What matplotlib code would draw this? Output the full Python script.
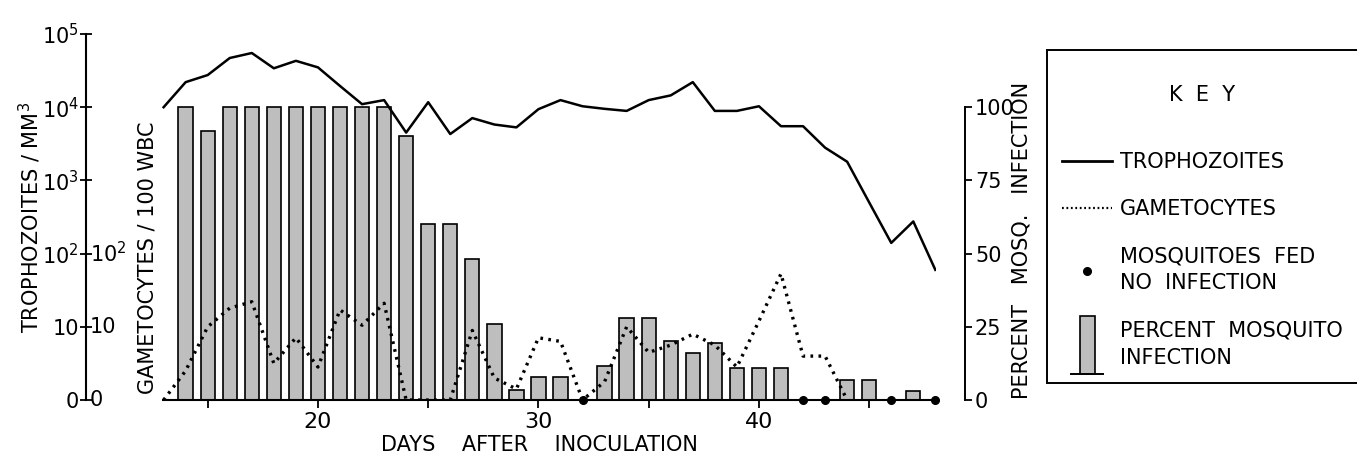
import matplotlib.pyplot as plt
import matplotlib.transforms as mtransforms
from matplotlib.legend_handler import HandlerBase
from matplotlib.lines import Line2D
from matplotlib.patches import Rectangle

plt.rcParams["font.family"] = ["DejaVu Sans"]
plt.rcParams["mathtext.fontset"] = "dejavusans"

# trophozoites / mm3, one reading a day
tropho_days = list(range(13, 49))
tropho = [10000, 22000, 27500, 47000, 55000, 34000, 43000, 35000, 19500,
          11000, 12500, 4500, 11700, 4300, 7100, 5800, 5300, 9400, 12500,
          10300, 9500, 8900, 12500, 14500, 22000, 8900, 8900, 10300, 5500,
          5500, 2800, 1800, 500, 140, 275, 60]

# gametocytes / 100 WBC
gameto_days = list(range(13, 45))
gameto = [0, 4, 10, 18, 22, 5, 8.5, 4.5, 17, 10.5, 21, 0, 0, 0, 9.5, 3,
          1.5, 8.5, 8, 0, 2.5, 10, 6.5, 7.5, 9, 7.5, 4.5, 12, 53, 6, 6, 0]

# percent mosquito infection
bar_days = [14, 15, 16, 17, 18, 19, 20, 21, 22, 23, 24, 25, 26, 27, 28, 29,
            30, 31, 33, 34, 35, 36, 37, 38, 39, 40, 41, 44, 45, 47]
bar_pct = [100, 92, 100, 100, 100, 100, 100, 100, 100, 100, 90, 60, 60, 48,
           26, 3.5, 8, 8, 11.5, 28, 28, 20, 16, 19.5, 11, 11, 11, 7, 7, 3]

# mosquitoes fed, no infection
none_days = [32, 42, 43, 46, 48]
none_pct = [0, 0, 0, 0, 0]

left_ticks = [0, 10, 100, 1000, 10000, 100000]
left_labels = ["0", "10", "10$^2$", "10$^3$", "10$^4$", "10$^5$"]
inner_ticks = [0, 10, 100]
inner_labels = ["0", "10", "10$^2$"]
pct_ticks = [0, 25, 50, 75, 100]
day_ticks = [15, 20, 25, 30, 35, 40, 45]
day_labels = ["", "20", "", "30", "", "40", ""]

BAR_GRAY = "#bebebe"
FS = 15


class BarKeyHandler(HandlerBase):
    def create_artists(self, legend, orig_handle, xdescent, ydescent,
                       width, height, fontsize, trans):
        cx = width / 2 - xdescent
        cy = height / 2 - ydescent
        bw = 0.72 * fontsize
        bh = 2.8 * fontsize
        y0 = cy - bh / 2
        rect = Rectangle((cx - bw / 2, y0), bw, bh, facecolor=BAR_GRAY,
                         edgecolor="black", linewidth=1.2, transform=trans)
        base = Line2D([cx - 0.75 * fontsize, cx + 0.75 * fontsize], [y0, y0],
                      color="black", linewidth=1.4, transform=trans)
        return [rect, base]


fig = plt.figure(figsize=(13.57, 4.54), dpi=100)
ax = fig.add_axes([86 / 1357, 54 / 454, 850 / 1357, 366 / 454])
axp = ax.twinx()
ax.set_zorder(axp.get_zorder() + 1)
ax.patch.set_visible(False)

# percent axis (bars and dots)
axp.bar(bar_days, bar_pct, width=0.65, color=BAR_GRAY, edgecolor="black",
        linewidth=1.2)
axp.plot(none_days, none_pct, "o", color="black", ms=5.5, clip_on=False,
         zorder=5)
axp.set_ylim(0, 125)
axp.set_yticks(pct_ticks)
axp.tick_params(axis="y", direction="out", length=5, width=1.3, pad=2,
                labelsize=FS)
for s in ["top", "left", "bottom"]:
    axp.spines[s].set_visible(False)
axp.spines["right"].set_position(("outward", 21))
axp.spines["right"].set_bounds(0, 100)
axp.spines["right"].set_linewidth(1.4)
axp.set_ylabel("PERCENT   MOSQ.   INFECTION", fontsize=FS)
axp.yaxis.set_label_coords(1.089, 0.437)

# counts axis (lines)
ax.plot(tropho_days, tropho, color="black", lw=1.8)
ax.plot(gameto_days, gameto, color="black", lw=2.4, ls=(0, (0.8, 1.6)))
ax.set_yscale("symlog", linthresh=10, linscale=0.9)
ax.set_ylim(0, 100000)
ax.set_xlim(9.48, 48.03)
ax.minorticks_off()
ax.set_yticks(left_ticks)
ax.set_yticklabels(left_labels)
ax.set_xticks(day_ticks)
ax.set_xticklabels(day_labels)
ax.tick_params(axis="y", direction="inout", length=8, width=1.3, pad=1,
               labelsize=FS)
ax.tick_params(axis="x", direction="out", length=6, width=1.3, pad=3,
               labelsize=16)
ax.spines["top"].set_visible(False)
ax.spines["right"].set_visible(False)
ax.spines["bottom"].set_bounds(12.97, 48.03)
for s in ["left", "bottom"]:
    ax.spines[s].set_linewidth(1.5)
ax.set_xlabel("DAYS    AFTER    INOCULATION", fontsize=FS)
ax.xaxis.set_label_coords(0.534, -0.095)
ax.set_ylabel("TROPHOZOITES / MM$^3$", fontsize=FS)
ax.yaxis.set_label_coords(-0.05, 0.5)

# gametocyte scale, written on the inside of the same axis line
inner = mtransforms.offset_copy(
    mtransforms.blended_transform_factory(ax.transAxes, ax.transData),
    fig=fig, x=4, y=0, units="dots")
for v, s in zip(inner_ticks, inner_labels):
    ax.text(0, v, s, transform=inner, ha="left", va="center", fontsize=FS)
ax.text(0.072, 0.388, "GAMETOCYTES / 100 WBC", transform=ax.transAxes,
        rotation=90, ha="center", va="center", fontsize=FS)

# key
handles = [
    Line2D([], [], color="black", lw=2),
    Line2D([], [], color="black", lw=1.6, ls=(0, (0.8, 1.2))),
    Line2D([], [], color="black", marker="o", ms=5.5, ls="none"),
    Rectangle((0, 0), 1, 1),
]
labels = ["TROPHOZOITES", "GAMETOCYTES", "MOSQUITOES  FED\nNO  INFECTION",
          "PERCENT  MOSQUITO\nINFECTION"]
leg = fig.legend(handles, labels, loc="upper left",
                 bbox_to_anchor=(1047 / 1357, 1 - 50 / 454),
                 bbox_transform=fig.transFigure, borderaxespad=0,
                 fancybox=False, edgecolor="black", framealpha=1,
                 fontsize=15, title="\nK  E  Y\n", title_fontsize=15,
                 handlelength=2.4, handletextpad=0.4, labelspacing=1.3,
                 borderpad=0.72,
                 handler_map={Rectangle: BarKeyHandler()})
leg.get_frame().set_linewidth(1.4)
leg.get_title().set_linespacing(1.0)
for t in leg.get_texts():
    t.set_linespacing(1.45)

fig.savefig("out.png", dpi=100)
